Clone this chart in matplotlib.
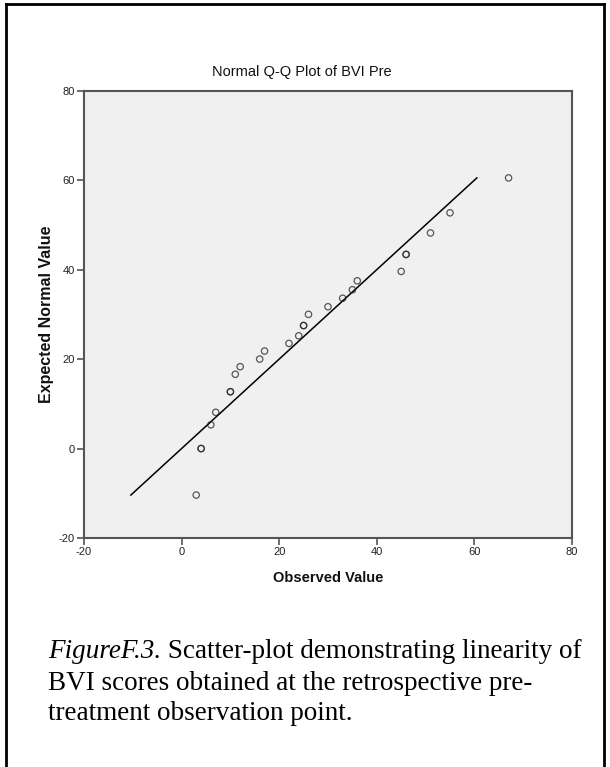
import matplotlib
matplotlib.use("Agg")
import matplotlib.pyplot as plt
from matplotlib.lines import Line2D

# Data
observed = [3, 4, 4, 6, 7, 10, 10, 11, 12, 16, 17, 22, 24, 25, 25, 26,
            30, 33, 35, 36, 45, 46, 46, 51, 55, 67]
expected = [-10.4, 0.0, 0.0, 5.3, 8.1, 12.7, 12.7, 16.6, 18.3, 20.0, 21.8,
            23.5, 25.2, 27.5, 27.5, 30.0, 31.7, 33.6, 35.5, 37.5, 39.6,
            43.4, 43.4, 48.2, 52.7, 60.5]
ref_line = [-10.4, 60.5]
x_ticks = [-20, 0, 20, 40, 60, 80]
y_ticks = [-20, 0, 20, 40, 60, 80]

title = "Normal Q-Q Plot of BVI Pre"
xlabel = "Observed Value"
ylabel = "Expected Normal Value"

W, H = 610, 767
fig = plt.figure(figsize=(W / 100, H / 100), dpi=100)
fig.patch.set_facecolor("white")

ax = fig.add_axes([84 / W, 1 - 538 / H, (572 - 84) / W, (538 - 90.7) / H])
ax.set_facecolor("#F0F0F0")

ax.plot(ref_line, ref_line, color="black", lw=1.1, zorder=2)
ax.scatter(observed, expected, s=21, facecolors="none",
           edgecolors="#222222", linewidths=0.9, alpha=0.75, zorder=3)

ax.set_xlim(-20, 80)
ax.set_ylim(-20, 80)
ax.set_xticks(x_ticks)
ax.set_yticks(y_ticks)
ax.set_xticklabels([str(t) for t in x_ticks])
ax.set_yticklabels([str(t) for t in y_ticks])

for s in ax.spines.values():
    s.set_color("#555555")
    s.set_linewidth(1.5)

ax.tick_params(axis="both", direction="out", length=5, width=1.2,
               color="#555555", labelsize=8, labelcolor="#222222", pad=1.5)
for lab in ax.get_xticklabels() + ax.get_yticklabels():
    lab.set_fontfamily("Liberation Sans")

fig.text(302 / W, 1 - 72 / H, title, ha="center", va="center",
         fontsize=10.5, family="Liberation Sans", color="#111111")
fig.text(328 / W, 1 - 578 / H, xlabel, ha="center", va="center",
         fontsize=10.5, fontweight="bold", family="Liberation Sans",
         color="#111111")
fig.text(47 / W, 1 - 314 / H, ylabel, ha="center", va="center",
         rotation=90, fontsize=11.5, fontweight="bold",
         family="Liberation Sans", color="#111111")

# caption
cap_x = 48 / W
cap_size = 19.5
t1 = fig.text(cap_x, 1 - 652 / H, "FigureF.3.", ha="left", va="center",
              fontsize=cap_size, family="Liberation Serif", style="italic")
fig.canvas.draw()
bb = t1.get_window_extent()
fig.text(bb.x1 / W, 1 - 652 / H, " Scatter-plot demonstrating linearity of",
         ha="left", va="center", fontsize=cap_size, family="Liberation Serif")
fig.text(cap_x, 1 - 683 / H, "BVI scores obtained at the retrospective pre-",
         ha="left", va="center", fontsize=cap_size, family="Liberation Serif")
fig.text(cap_x, 1 - 713 / H, "treatment observation point.",
         ha="left", va="center", fontsize=cap_size, family="Liberation Serif")

# outer frame (left, top, right)
lw = 2.0
fig.add_artist(Line2D([6 / W, 6 / W], [0, 1 - 4 / H], color="black", lw=lw,
                      transform=fig.transFigure))
fig.add_artist(Line2D([6 / W, 604 / W], [1 - 4 / H, 1 - 4 / H], color="black",
                      lw=lw, transform=fig.transFigure))
fig.add_artist(Line2D([604 / W, 604 / W], [0, 1 - 4 / H], color="black", lw=lw,
                      transform=fig.transFigure))

fig.savefig("out.png", dpi=100)
